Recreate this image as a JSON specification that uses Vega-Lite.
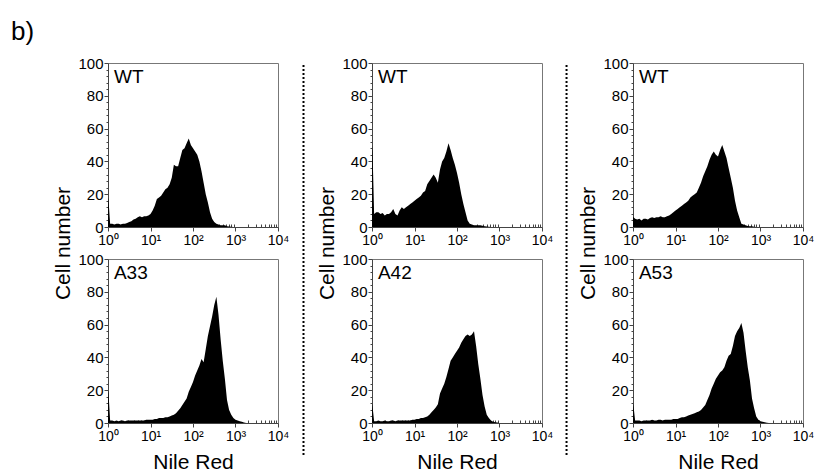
{
  "$schema": "https://vega.github.io/schema/vega-lite/v6.json",
  "padding": {"left": 11, "top": 18, "right": 5, "bottom": 5},
  "title": {"text": "b)", "anchor": "start", "fontSize": 26, "fontWeight": "normal", "font": "Liberation Sans", "color": "black", "frame": "bounds", "offset": 11},
  "config": {
    "font": "Liberation Sans",
    "view": {"stroke": "#777", "strokeWidth": 1},
    "axis": {"grid": false, "domainColor": "#444", "tickColor": "#444", "labelColor": "black", "titleColor": "black", "labelFont": "Liberation Sans", "titleFont": "Liberation Sans", "titleFontWeight": "normal", "titleFontSize": 21}
  },
  "datasets": {
    "h": [
      {"x": 1, "WT1": 18, "A33": 20, "WT2": 50, "A42": 12, "WT3": 6, "A53": 12},
      {"x": 1.03, "WT1": 16, "A33": 18, "WT2": 46, "A42": 10, "WT3": 6, "A53": 10},
      {"x": 1.122, "WT1": 2, "A33": 1.5, "WT2": 8, "A42": 1, "WT3": 5, "A53": 1.5},
      {"x": 1.259, "WT1": 2, "A33": 1.5, "WT2": 9, "A42": 1, "WT3": 4.5, "A53": 1.5},
      {"x": 1.413, "WT1": 1.5, "A33": 1, "WT2": 9, "A42": 1.5, "WT3": 5, "A53": 1.5},
      {"x": 1.585, "WT1": 2, "A33": 1.5, "WT2": 8, "A42": 1, "WT3": 4, "A53": 1},
      {"x": 1.778, "WT1": 2, "A33": 1, "WT2": 8.5, "A42": 1, "WT3": 5, "A53": 1.5},
      {"x": 1.995, "WT1": 1.5, "A33": 1.5, "WT2": 7, "A42": 1.5, "WT3": 5, "A53": 1.5},
      {"x": 2.239, "WT1": 2, "A33": 1.5, "WT2": 8, "A42": 1, "WT3": 4.5, "A53": 1.5},
      {"x": 2.512, "WT1": 2, "A33": 1, "WT2": 8, "A42": 1, "WT3": 5.5, "A53": 1.5},
      {"x": 2.818, "WT1": 2.5, "A33": 1.5, "WT2": 9, "A42": 1.5, "WT3": 6, "A53": 2},
      {"x": 3.162, "WT1": 3, "A33": 1.5, "WT2": 11, "A42": 1.5, "WT3": 5.5, "A53": 1.5},
      {"x": 3.548, "WT1": 3.5, "A33": 1.5, "WT2": 8, "A42": 1, "WT3": 6, "A53": 1.5},
      {"x": 3.981, "WT1": 4.5, "A33": 1.5, "WT2": 7, "A42": 1.5, "WT3": 6, "A53": 2},
      {"x": 4.467, "WT1": 5, "A33": 1.5, "WT2": 10, "A42": 1.5, "WT3": 6.5, "A53": 2},
      {"x": 5.012, "WT1": 6, "A33": 1.5, "WT2": 12, "A42": 1.5, "WT3": 6, "A53": 1.5},
      {"x": 5.623, "WT1": 6.5, "A33": 1.5, "WT2": 11, "A42": 1.5, "WT3": 6, "A53": 2},
      {"x": 6.31, "WT1": 6, "A33": 1.5, "WT2": 12, "A42": 1.5, "WT3": 6.5, "A53": 2},
      {"x": 7.079, "WT1": 6.5, "A33": 1.5, "WT2": 13, "A42": 1.5, "WT3": 7, "A53": 2},
      {"x": 7.943, "WT1": 6.5, "A33": 2, "WT2": 14, "A42": 1.5, "WT3": 8, "A53": 2},
      {"x": 8.913, "WT1": 7, "A33": 2, "WT2": 15, "A42": 2, "WT3": 9, "A53": 2.5},
      {"x": 10, "WT1": 8, "A33": 2, "WT2": 16, "A42": 2, "WT3": 10, "A53": 2.5},
      {"x": 11.22, "WT1": 10, "A33": 2, "WT2": 17, "A42": 2.5, "WT3": 11, "A53": 2.5},
      {"x": 12.59, "WT1": 13, "A33": 2.5, "WT2": 18, "A42": 2.5, "WT3": 12, "A53": 3},
      {"x": 14.13, "WT1": 17, "A33": 2.5, "WT2": 19, "A42": 3, "WT3": 13, "A53": 3.5},
      {"x": 15.85, "WT1": 18, "A33": 3, "WT2": 21, "A42": 3, "WT3": 14, "A53": 3.5},
      {"x": 17.78, "WT1": 19, "A33": 3, "WT2": 22, "A42": 3.5, "WT3": 15, "A53": 4},
      {"x": 19.95, "WT1": 21, "A33": 3, "WT2": 26, "A42": 4, "WT3": 16, "A53": 4.5},
      {"x": 22.39, "WT1": 23, "A33": 3.5, "WT2": 28, "A42": 5, "WT3": 18, "A53": 5},
      {"x": 25.12, "WT1": 24, "A33": 3.5, "WT2": 30, "A42": 6.5, "WT3": 19, "A53": 5.5},
      {"x": 28.18, "WT1": 26, "A33": 4, "WT2": 32, "A42": 8, "WT3": 20, "A53": 6},
      {"x": 31.62, "WT1": 30, "A33": 4.5, "WT2": 30, "A42": 9.5, "WT3": 21, "A53": 6.5},
      {"x": 35.48, "WT1": 38, "A33": 5, "WT2": 27, "A42": 11.5, "WT3": 24, "A53": 7},
      {"x": 39.81, "WT1": 37, "A33": 6, "WT2": 35, "A42": 18, "WT3": 27, "A53": 8},
      {"x": 44.67, "WT1": 37, "A33": 7.5, "WT2": 40, "A42": 21, "WT3": 31, "A53": 9.5},
      {"x": 50.12, "WT1": 42, "A33": 9, "WT2": 42, "A42": 24, "WT3": 34, "A53": 11},
      {"x": 56.23, "WT1": 47, "A33": 11, "WT2": 46, "A42": 28, "WT3": 37, "A53": 14},
      {"x": 63.1, "WT1": 48, "A33": 13, "WT2": 51, "A42": 33, "WT3": 41, "A53": 17},
      {"x": 70.79, "WT1": 51, "A33": 15, "WT2": 47, "A42": 38, "WT3": 44, "A53": 21},
      {"x": 79.43, "WT1": 54, "A33": 19, "WT2": 42, "A42": 40, "WT3": 46, "A53": 24},
      {"x": 89.13, "WT1": 50, "A33": 22, "WT2": 38, "A42": 42, "WT3": 44, "A53": 27},
      {"x": 100, "WT1": 48, "A33": 25, "WT2": 33, "A42": 44, "WT3": 43, "A53": 29},
      {"x": 112.2, "WT1": 46, "A33": 29, "WT2": 27, "A42": 46, "WT3": 47, "A53": 31},
      {"x": 125.9, "WT1": 44, "A33": 32, "WT2": 20, "A42": 49, "WT3": 50, "A53": 32},
      {"x": 141.3, "WT1": 40, "A33": 35, "WT2": 14, "A42": 51, "WT3": 46, "A53": 34},
      {"x": 158.5, "WT1": 34, "A33": 39, "WT2": 9, "A42": 53, "WT3": 42, "A53": 38},
      {"x": 177.8, "WT1": 27, "A33": 37, "WT2": 4, "A42": 54, "WT3": 36, "A53": 41},
      {"x": 199.5, "WT1": 20, "A33": 45, "WT2": 2, "A42": 53, "WT3": 30, "A53": 42},
      {"x": 223.9, "WT1": 15, "A33": 53, "WT2": 1.5, "A42": 54, "WT3": 24, "A53": 47},
      {"x": 251.2, "WT1": 9, "A33": 59, "WT2": 1, "A42": 56, "WT3": 16, "A53": 53},
      {"x": 281.8, "WT1": 5, "A33": 65, "WT2": 1, "A42": 47, "WT3": 10, "A53": 56},
      {"x": 316.2, "WT1": 3, "A33": 72, "WT2": 1, "A42": 36, "WT3": 6, "A53": 58},
      {"x": 354.8, "WT1": 2, "A33": 77, "WT2": 1, "A42": 27, "WT3": 2, "A53": 61},
      {"x": 398.1, "WT1": 1.5, "A33": 66, "WT2": 0.8, "A42": 17, "WT3": 1.5, "A53": 55},
      {"x": 446.7, "WT1": 1, "A33": 51, "WT2": 0.5, "A42": 10, "WT3": 1, "A53": 44},
      {"x": 501.2, "WT1": 1, "A33": 38, "WT2": 0.3, "A42": 5, "WT3": 0.6, "A53": 34},
      {"x": 562.3, "WT1": 1, "A33": 27, "WT2": 0.2, "A42": 3, "WT3": 0.5, "A53": 26},
      {"x": 631, "WT1": 0.5, "A33": 14, "WT2": 0, "A42": 1.5, "WT3": 0.4, "A53": 15},
      {"x": 707.9, "WT1": 0.3, "A33": 8, "WT2": 0, "A42": 0.8, "WT3": 0.2, "A53": 9},
      {"x": 794.3, "WT1": 0.2, "A33": 5, "WT2": 0, "A42": 0.5, "WT3": 0, "A53": 4},
      {"x": 891.3, "WT1": 0, "A33": 3, "WT2": 0, "A42": 0.3, "WT3": 0, "A53": 2},
      {"x": 1000, "WT1": 0, "A33": 2, "WT2": 0, "A42": 0, "WT3": 0, "A53": 1},
      {"x": 1122, "WT1": 0, "A33": 1.5, "WT2": 0, "A42": 0, "WT3": 0, "A53": 0.7},
      {"x": 1259, "WT1": 0, "A33": 1, "WT2": 0, "A42": 0, "WT3": 0, "A53": 0.4},
      {"x": 1413, "WT1": 0, "A33": 0.7, "WT2": 0, "A42": 0, "WT3": 0, "A53": 0.2},
      {"x": 1585, "WT1": 0, "A33": 0.3, "WT2": 0, "A42": 0, "WT3": 0, "A53": 0},
      {"x": 1778, "WT1": 0, "A33": 0, "WT2": 0, "A42": 0, "WT3": 0, "A53": 0}
    ]
  },
  "spacing": 0,
  "hconcat": [
    {"width": 40, "height": 10, "view": {"stroke": null}, "data": {"values": []}, "mark": "point"},
    {
      "bounds": "flush", "spacing": 32,
      "vconcat": [
        {"width": 170, "height": 164, "data": {"name": "h"}, "resolve": {"axis": {"x": "independent", "y": "independent"}}, "layer": [
          {"mark": {"type": "area", "color": "black", "interpolate": "linear"}, "encoding": {
            "x": {"field": "x", "type": "quantitative", "scale": {"type": "log", "domain": [1, 10000]}, "axis": {"title": null, "values": [1,2,3,4,5,6,7,8,9,10,20,30,40,50,60,70,80,90,100,200,300,400,500,600,700,800,900,1000,2000,3000,4000,5000,6000,7000,8000,9000,10000], "labelExpr": "datum.value == 1 ? '10⁰' : datum.value == 10 ? '10¹' : datum.value == 100 ? '10²' : datum.value == 1000 ? '10³' : datum.value == 10000 ? '10⁴' : ''", "tickSize": {"condition": {"test": "datum.value == 1 || datum.value == 10 || datum.value == 100 || datum.value == 1000 || datum.value == 10000", "value": 4}, "value": -3}, "labelFontSize": 14, "labelPadding": 2, "labelFlush": false, "labelOverlap": false}},
            "y": {"field": "WT1", "type": "quantitative", "scale": {"domain": [0, 100]}, "axis": {"title": null, "values": [0,4,8,12,16,20,24,28,32,36,40,44,48,52,56,60,64,68,72,76,80,84,88,92,96,100], "labelExpr": "datum.value % 20 == 0 ? datum.label : ''", "tickSize": {"condition": {"test": "datum.value % 20 == 0", "value": 4}, "value": 2}, "labelFontSize": 15, "labelPadding": 1, "labelFlush": false, "labelOverlap": false}}
          }},
          {"data": {"values": [{"label": "WT"}]}, "mark": {"type": "text", "align": "left", "baseline": "top", "fontSize": 19, "color": "black"}, "encoding": {"x": {"datum": 1.38, "type": "quantitative", "axis": null}, "y": {"datum": 97, "type": "quantitative", "axis": null}, "text": {"field": "label"}}}
        ]},
        {"width": 170, "height": 164, "data": {"name": "h"}, "resolve": {"axis": {"x": "independent", "y": "independent"}}, "layer": [
          {"mark": {"type": "area", "color": "black", "interpolate": "linear"}, "encoding": {
            "x": {"field": "x", "type": "quantitative", "scale": {"type": "log", "domain": [1, 10000]}, "axis": {"title": "Nile Red", "titlePadding": 8, "values": [1,2,3,4,5,6,7,8,9,10,20,30,40,50,60,70,80,90,100,200,300,400,500,600,700,800,900,1000,2000,3000,4000,5000,6000,7000,8000,9000,10000], "labelExpr": "datum.value == 1 ? '10⁰' : datum.value == 10 ? '10¹' : datum.value == 100 ? '10²' : datum.value == 1000 ? '10³' : datum.value == 10000 ? '10⁴' : ''", "tickSize": {"condition": {"test": "datum.value == 1 || datum.value == 10 || datum.value == 100 || datum.value == 1000 || datum.value == 10000", "value": 4}, "value": -3}, "labelFontSize": 14, "labelPadding": 2, "labelFlush": false, "labelOverlap": false}},
            "y": {"field": "A33", "type": "quantitative", "scale": {"domain": [0, 100]}, "axis": {"title": "Cell number", "titleX": -45, "titleY": -16, "titleAlign": "center", "titleBaseline": "middle", "titleAngle": -90, "values": [0,4,8,12,16,20,24,28,32,36,40,44,48,52,56,60,64,68,72,76,80,84,88,92,96,100], "labelExpr": "datum.value % 20 == 0 ? datum.label : ''", "tickSize": {"condition": {"test": "datum.value % 20 == 0", "value": 4}, "value": 2}, "labelFontSize": 15, "labelPadding": 1, "labelFlush": false, "labelOverlap": false}}
          }},
          {"data": {"values": [{"label": "A33"}]}, "mark": {"type": "text", "align": "left", "baseline": "top", "fontSize": 19, "color": "black"}, "encoding": {"x": {"datum": 1.38, "type": "quantitative", "axis": null}, "y": {"datum": 97, "type": "quantitative", "axis": null}, "text": {"field": "label"}}}
        ]}
      ]
    },
    {"width": 25, "height": 392, "view": {"stroke": null}, "data": {"values": [{"a": 0, "b": 1}]}, "mark": {"type": "rule", "strokeDash": [2, 2], "strokeWidth": 2, "color": "black"}, "encoding": {"x": {"datum": 0.54, "type": "quantitative", "scale": {"domain": [0, 1]}, "axis": null}, "y": {"field": "a", "type": "quantitative", "scale": {"domain": [0, 1]}, "axis": null}, "y2": {"field": "b"}}},
    {
      "bounds": "flush", "spacing": 32,
      "vconcat": [
        {"width": 170, "height": 164, "data": {"name": "h"}, "resolve": {"axis": {"x": "independent", "y": "independent"}}, "layer": [
          {"mark": {"type": "area", "color": "black", "interpolate": "linear"}, "encoding": {
            "x": {"field": "x", "type": "quantitative", "scale": {"type": "log", "domain": [1, 10000]}, "axis": {"title": null, "values": [1,2,3,4,5,6,7,8,9,10,20,30,40,50,60,70,80,90,100,200,300,400,500,600,700,800,900,1000,2000,3000,4000,5000,6000,7000,8000,9000,10000], "labelExpr": "datum.value == 1 ? '10⁰' : datum.value == 10 ? '10¹' : datum.value == 100 ? '10²' : datum.value == 1000 ? '10³' : datum.value == 10000 ? '10⁴' : ''", "tickSize": {"condition": {"test": "datum.value == 1 || datum.value == 10 || datum.value == 100 || datum.value == 1000 || datum.value == 10000", "value": 4}, "value": -3}, "labelFontSize": 14, "labelPadding": 2, "labelFlush": false, "labelOverlap": false}},
            "y": {"field": "WT2", "type": "quantitative", "scale": {"domain": [0, 100]}, "axis": {"title": null, "values": [0,4,8,12,16,20,24,28,32,36,40,44,48,52,56,60,64,68,72,76,80,84,88,92,96,100], "labelExpr": "datum.value % 20 == 0 ? datum.label : ''", "tickSize": {"condition": {"test": "datum.value % 20 == 0", "value": 4}, "value": 2}, "labelFontSize": 15, "labelPadding": 1, "labelFlush": false, "labelOverlap": false}}
          }},
          {"data": {"values": [{"label": "WT"}]}, "mark": {"type": "text", "align": "left", "baseline": "top", "fontSize": 19, "color": "black"}, "encoding": {"x": {"datum": 1.38, "type": "quantitative", "axis": null}, "y": {"datum": 97, "type": "quantitative", "axis": null}, "text": {"field": "label"}}}
        ]},
        {"width": 170, "height": 164, "data": {"name": "h"}, "resolve": {"axis": {"x": "independent", "y": "independent"}}, "layer": [
          {"mark": {"type": "area", "color": "black", "interpolate": "linear"}, "encoding": {
            "x": {"field": "x", "type": "quantitative", "scale": {"type": "log", "domain": [1, 10000]}, "axis": {"title": "Nile Red", "titlePadding": 8, "values": [1,2,3,4,5,6,7,8,9,10,20,30,40,50,60,70,80,90,100,200,300,400,500,600,700,800,900,1000,2000,3000,4000,5000,6000,7000,8000,9000,10000], "labelExpr": "datum.value == 1 ? '10⁰' : datum.value == 10 ? '10¹' : datum.value == 100 ? '10²' : datum.value == 1000 ? '10³' : datum.value == 10000 ? '10⁴' : ''", "tickSize": {"condition": {"test": "datum.value == 1 || datum.value == 10 || datum.value == 100 || datum.value == 1000 || datum.value == 10000", "value": 4}, "value": -3}, "labelFontSize": 14, "labelPadding": 2, "labelFlush": false, "labelOverlap": false}},
            "y": {"field": "A42", "type": "quantitative", "scale": {"domain": [0, 100]}, "axis": {"title": "Cell number", "titleX": -45, "titleY": -16, "titleAlign": "center", "titleBaseline": "middle", "titleAngle": -90, "values": [0,4,8,12,16,20,24,28,32,36,40,44,48,52,56,60,64,68,72,76,80,84,88,92,96,100], "labelExpr": "datum.value % 20 == 0 ? datum.label : ''", "tickSize": {"condition": {"test": "datum.value % 20 == 0", "value": 4}, "value": 2}, "labelFontSize": 15, "labelPadding": 1, "labelFlush": false, "labelOverlap": false}}
          }},
          {"data": {"values": [{"label": "A42"}]}, "mark": {"type": "text", "align": "left", "baseline": "top", "fontSize": 19, "color": "black"}, "encoding": {"x": {"datum": 1.38, "type": "quantitative", "axis": null}, "y": {"datum": 97, "type": "quantitative", "axis": null}, "text": {"field": "label"}}}
        ]}
      ]
    },
    {"width": 22, "height": 392, "view": {"stroke": null}, "data": {"values": [{"a": 0, "b": 1}]}, "mark": {"type": "rule", "strokeDash": [2, 2], "strokeWidth": 2, "color": "black"}, "encoding": {"x": {"datum": 0.57, "type": "quantitative", "scale": {"domain": [0, 1]}, "axis": null}, "y": {"field": "a", "type": "quantitative", "scale": {"domain": [0, 1]}, "axis": null}, "y2": {"field": "b"}}},
    {
      "bounds": "flush", "spacing": 32,
      "vconcat": [
        {"width": 170, "height": 164, "data": {"name": "h"}, "resolve": {"axis": {"x": "independent", "y": "independent"}}, "layer": [
          {"mark": {"type": "area", "color": "black", "interpolate": "linear"}, "encoding": {
            "x": {"field": "x", "type": "quantitative", "scale": {"type": "log", "domain": [1, 10000]}, "axis": {"title": null, "values": [1,2,3,4,5,6,7,8,9,10,20,30,40,50,60,70,80,90,100,200,300,400,500,600,700,800,900,1000,2000,3000,4000,5000,6000,7000,8000,9000,10000], "labelExpr": "datum.value == 1 ? '10⁰' : datum.value == 10 ? '10¹' : datum.value == 100 ? '10²' : datum.value == 1000 ? '10³' : datum.value == 10000 ? '10⁴' : ''", "tickSize": {"condition": {"test": "datum.value == 1 || datum.value == 10 || datum.value == 100 || datum.value == 1000 || datum.value == 10000", "value": 4}, "value": -3}, "labelFontSize": 14, "labelPadding": 2, "labelFlush": false, "labelOverlap": false}},
            "y": {"field": "WT3", "type": "quantitative", "scale": {"domain": [0, 100]}, "axis": {"title": null, "values": [0,4,8,12,16,20,24,28,32,36,40,44,48,52,56,60,64,68,72,76,80,84,88,92,96,100], "labelExpr": "datum.value % 20 == 0 ? datum.label : ''", "tickSize": {"condition": {"test": "datum.value % 20 == 0", "value": 4}, "value": 2}, "labelFontSize": 15, "labelPadding": 1, "labelFlush": false, "labelOverlap": false}}
          }},
          {"data": {"values": [{"label": "WT"}]}, "mark": {"type": "text", "align": "left", "baseline": "top", "fontSize": 19, "color": "black"}, "encoding": {"x": {"datum": 1.38, "type": "quantitative", "axis": null}, "y": {"datum": 97, "type": "quantitative", "axis": null}, "text": {"field": "label"}}}
        ]},
        {"width": 170, "height": 164, "data": {"name": "h"}, "resolve": {"axis": {"x": "independent", "y": "independent"}}, "layer": [
          {"mark": {"type": "area", "color": "black", "interpolate": "linear"}, "encoding": {
            "x": {"field": "x", "type": "quantitative", "scale": {"type": "log", "domain": [1, 10000]}, "axis": {"title": "Nile Red", "titlePadding": 8, "values": [1,2,3,4,5,6,7,8,9,10,20,30,40,50,60,70,80,90,100,200,300,400,500,600,700,800,900,1000,2000,3000,4000,5000,6000,7000,8000,9000,10000], "labelExpr": "datum.value == 1 ? '10⁰' : datum.value == 10 ? '10¹' : datum.value == 100 ? '10²' : datum.value == 1000 ? '10³' : datum.value == 10000 ? '10⁴' : ''", "tickSize": {"condition": {"test": "datum.value == 1 || datum.value == 10 || datum.value == 100 || datum.value == 1000 || datum.value == 10000", "value": 4}, "value": -3}, "labelFontSize": 14, "labelPadding": 2, "labelFlush": false, "labelOverlap": false}},
            "y": {"field": "A53", "type": "quantitative", "scale": {"domain": [0, 100]}, "axis": {"title": "Cell number", "titleX": -45, "titleY": -16, "titleAlign": "center", "titleBaseline": "middle", "titleAngle": -90, "values": [0,4,8,12,16,20,24,28,32,36,40,44,48,52,56,60,64,68,72,76,80,84,88,92,96,100], "labelExpr": "datum.value % 20 == 0 ? datum.label : ''", "tickSize": {"condition": {"test": "datum.value % 20 == 0", "value": 4}, "value": 2}, "labelFontSize": 15, "labelPadding": 1, "labelFlush": false, "labelOverlap": false}}
          }},
          {"data": {"values": [{"label": "A53"}]}, "mark": {"type": "text", "align": "left", "baseline": "top", "fontSize": 19, "color": "black"}, "encoding": {"x": {"datum": 1.38, "type": "quantitative", "axis": null}, "y": {"datum": 97, "type": "quantitative", "axis": null}, "text": {"field": "label"}}}
        ]}
      ]
    }
  ]
}
